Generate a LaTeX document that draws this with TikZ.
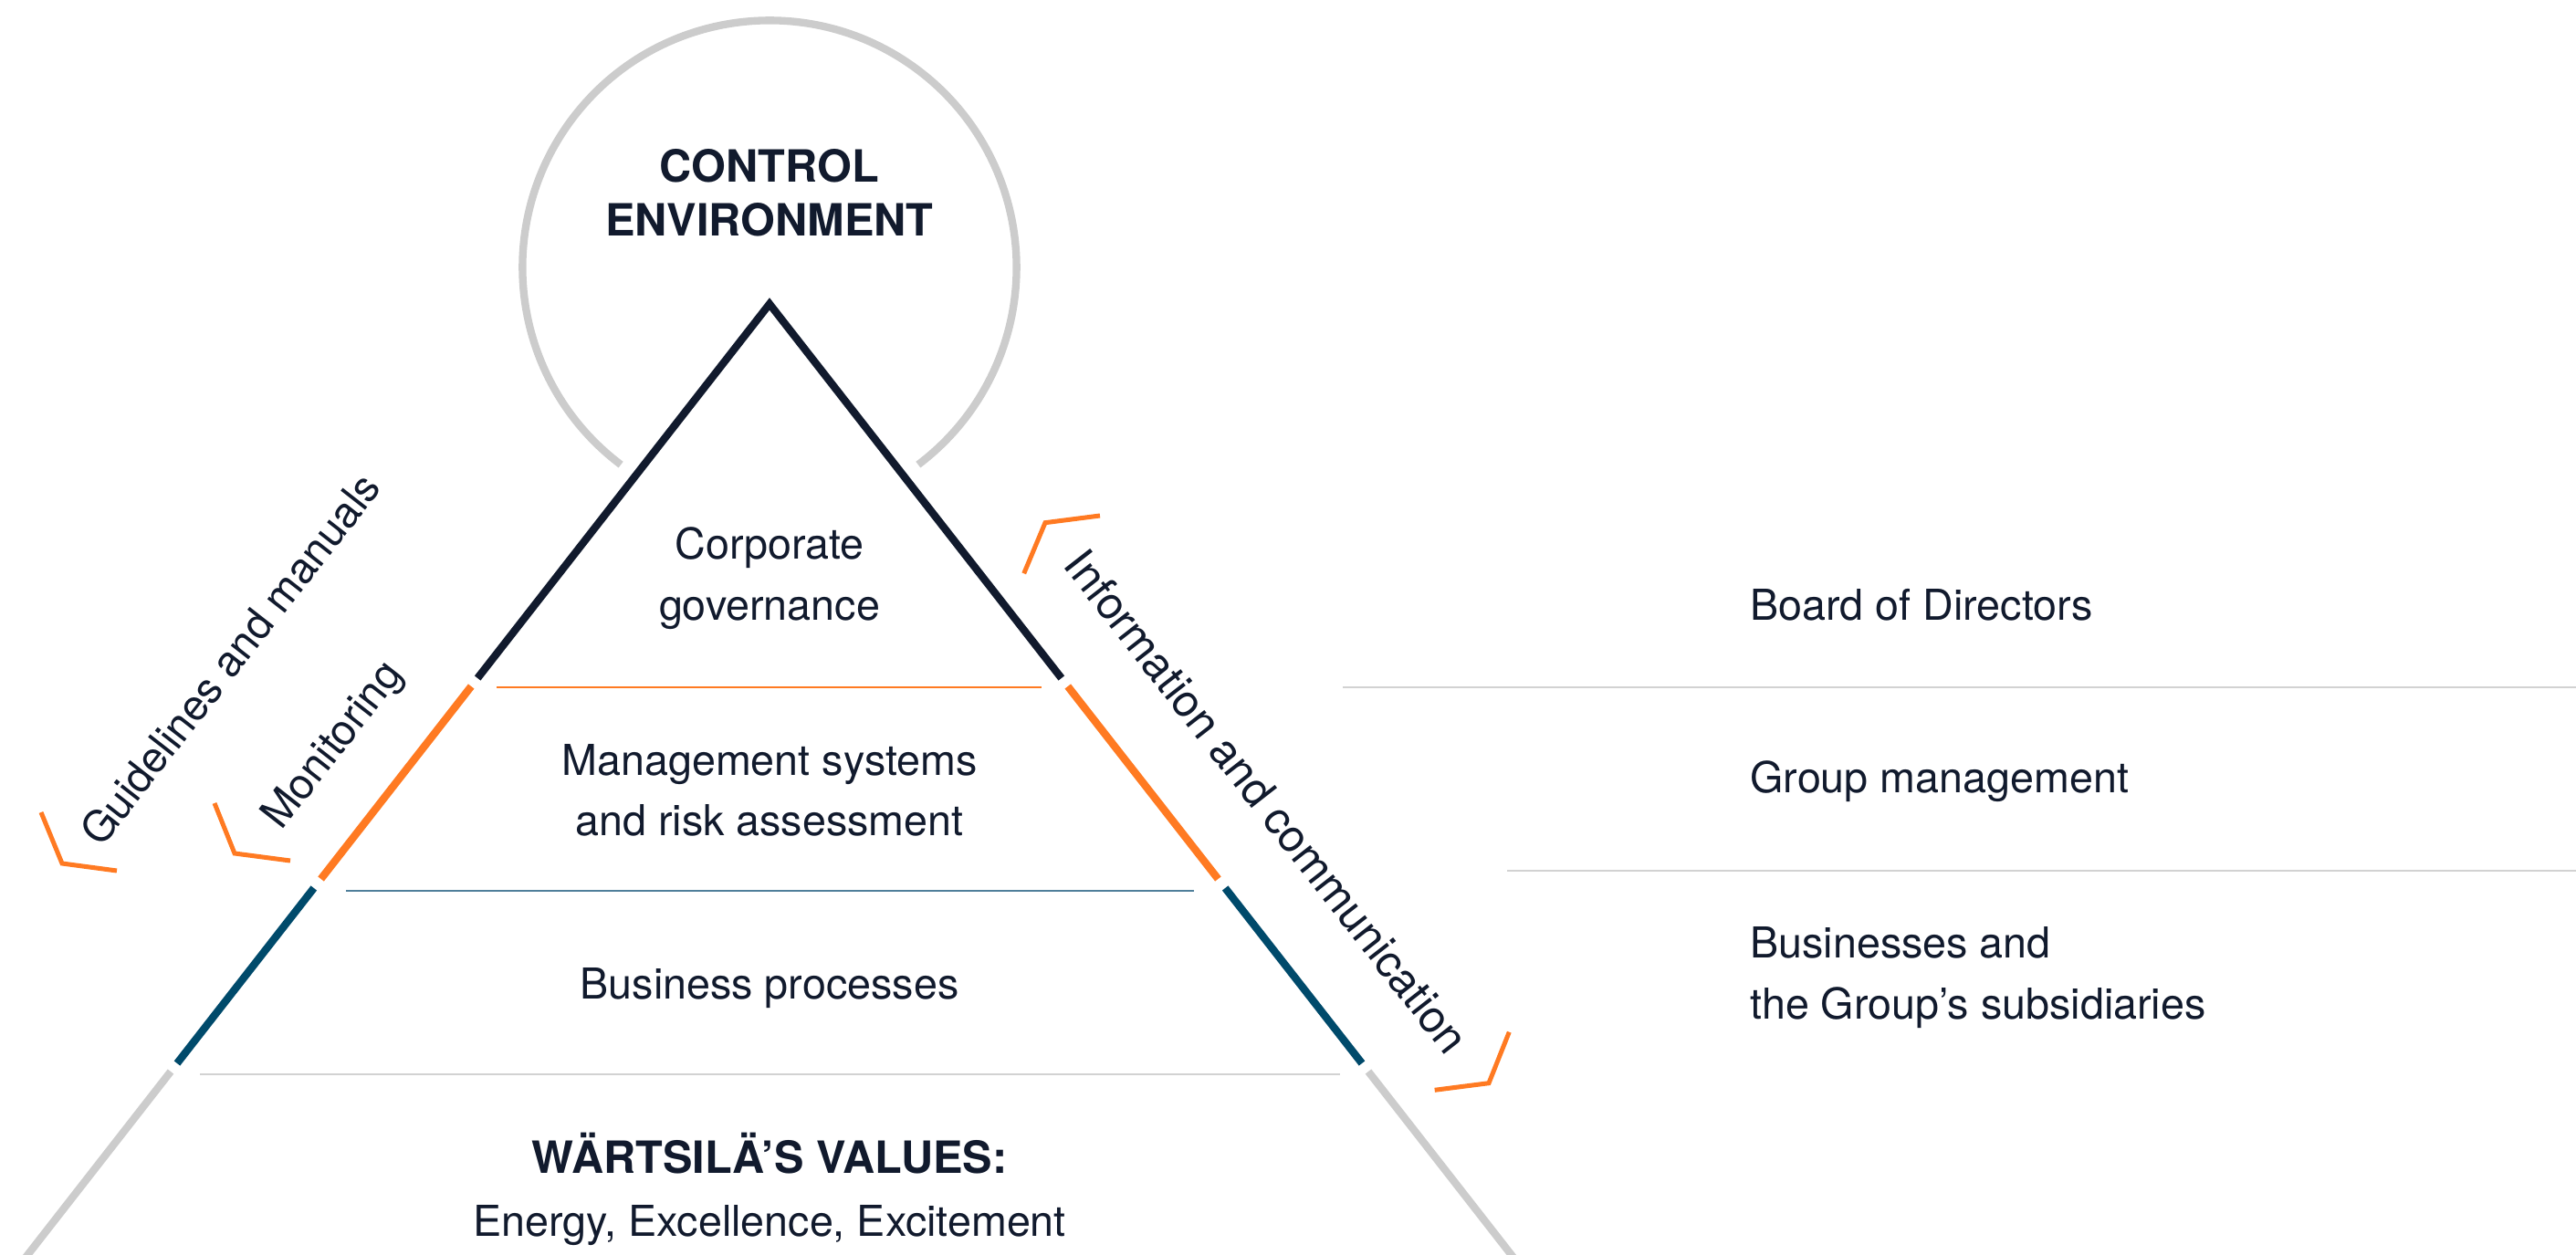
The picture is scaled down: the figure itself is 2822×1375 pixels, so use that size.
\documentclass[tikz,border=0pt]{standalone}
\usepackage{fontspec}
\setmainfont{TeX Gyre Heros}
\definecolor{navy}{HTML}{111A2D}
\definecolor{wor}{HTML}{FF7A22}
\definecolor{teal}{HTML}{004A6B}
\definecolor{lgray}{HTML}{CCCCCC}
\definecolor{sepgray}{HTML}{D2D2D2}
\definecolor{sepblue}{HTML}{4F7F9A}
\tikzset{
  side/.style={line width=2.5pt},
  sepline/.style={line width=0.6pt},
  brk/.style={draw=wor, line width=1.5pt},
  txt/.style={text=navy, inner sep=0pt, font=\fontsize{14}{17}\selectfont},
  rtxt/.style={text=navy, inner sep=0pt, font=\fontsize{14.7}{17}\selectfont},
  btxt/.style={text=navy, inner sep=0pt, font=\fontsize{14.6}{17}\selectfont\bfseries},
}
\begin{document}
\begin{tikzpicture}[x=0.3pt,y=-0.3pt]
\useasboundingbox (0,0) rectangle (2822,1375);
% circle arc
\coordinate (cc) at (843,293);
\draw[lgray, line width=2.5pt] ([shift={(127:270.6)}]cc) arc[start angle=127, end angle=413, radius=270.6];
% triangle coordinates
\coordinate (apex) at (843,333);
\coordinate (L1) at (523.2,743);  \coordinate (R1) at (1162.8,743);
\coordinate (L2) at (516.2,752);  \coordinate (R2) at (1169.8,752);
\coordinate (L3) at (351.6,963);  \coordinate (R3) at (1334.4,963);
\coordinate (L4) at (343.8,973);  \coordinate (R4) at (1342.2,973);
\coordinate (L5) at (194.0,1165); \coordinate (R5) at (1492.0,1165);
\coordinate (L6) at (187.0,1174); \coordinate (R6) at (1499.0,1174);
\coordinate (L7) at (10.7,1400);  \coordinate (R7) at (1675.3,1400);
\draw[side, navy, line join=miter, miter limit=10] (L1) -- (apex) -- (R1);
\draw[side, wor] (L2) -- (L3);
\draw[side, wor] (R2) -- (R3);
\draw[side, teal] (L4) -- (L5);
\draw[side, teal] (R4) -- (R5);
\draw[side, lgray] (L6) -- (L7);
\draw[side, lgray] (R6) -- (R7);
% separator lines
\draw[sepline, wor] (544,753) -- (1141,753);
\draw[sepline, sepblue] (379,976) -- (1308,976);
\draw[sepline, sepgray] (219,1177) -- (1468,1177);
\draw[sepline, sepgray] (1471,753) -- (2822,753);
\draw[sepline, sepgray] (1651,954) -- (2822,954);
% brackets
\draw[brk] (45,890) -- (68,946) -- (128,954);
\draw[brk] (235,880) -- (257,935) -- (318,943);
\draw[brk] (1121.7,628.3) -- (1145,572.7) -- (1205,565);
\draw[brk] (1571.7,1194.3) -- (1631,1186.7) -- (1653.3,1130.7);
% texts
\node[btxt, anchor=base] (ce1) at (843,199.8) {CONTROL};
\node[btxt, anchor=base] (ce2) at (843,259) {ENVIRONMENT};
\node[txt, anchor=base] (cg1) at (843,612.7) {Corporate};
\node[txt, anchor=base] (cg2) at (843,680) {governance};
\node[txt, anchor=base] (ms1) at (843,850) {Management systems};
\node[txt, anchor=base] (ms2) at (843,916) {and risk assessment};
\node[txt, anchor=base] (bp) at (843,1095) {Business processes};
\node[btxt, anchor=base] (wv1) at (843,1285) {WÄRTSILÄ’S VALUES:};
\node[txt, anchor=base] (wv2) at (843,1354) {Energy, Excellence, Excitement};
\node[txt, anchor=base west] (bod) at (1916.7,679.3) {Board of Directors};
\node[txt, anchor=base west] (gm) at (1916.7,868.3) {Group management};
\node[txt, anchor=base west] (bs1) at (1916.7,1050) {Businesses and};
\node[txt, anchor=base west] (bs2) at (1916.7,1117) {the Group’s subsidiaries};
\node[txt, anchor=base, rotate=52] (gl) at (265.2,732.4) {Guidelines and manuals};
\node[txt, anchor=base, rotate=52] (mon) at (375.8,825.0) {Monitoring};
\node[rtxt, anchor=base, rotate=-52] (ic) at (1374,889) {Information and communication};
\end{tikzpicture}
\end{document}
